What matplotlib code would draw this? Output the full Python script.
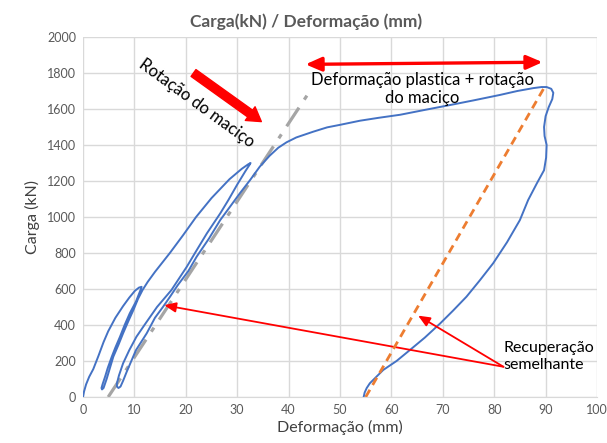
import numpy as np
import matplotlib.pyplot as plt

plt.rcParams['font.family'] = ['Lato', 'DejaVu Sans']

# load / displacement path (mm, kN)
defo = [0.0, 0.2, 0.6, 1.2, 2.0, 3.0, 4.0, 4.9, 6.3, 7.8, 9.0, 10.1, 10.9, 11.4,
        11.2, 10.3, 9.1, 8.1, 7.2, 6.3, 5.6, 4.8, 4.3, 3.8, 3.6, 3.7, 4.0,
        4.6, 5.9, 6.9, 7.8, 8.8, 9.8, 10.7, 11.6, 12.6, 14.0, 16.9, 19.5, 22.0, 25.0, 28.5, 30.9, 32.1, 32.6,
        32.4, 31.6, 30.0, 28.3, 26.7, 24.1, 22.0, 20.2, 17.2, 14.4, 12.2, 10.4, 9.0, 7.8, 7.0, 6.6, 6.6, 6.9, 7.3,
        7.8, 8.5, 10.3, 12.4, 14.0, 15.6, 17.0, 18.4, 20.5, 22.1, 24.5, 26.7, 28.6, 30.5, 32.5, 34.4, 36.3, 38.0, 39.6,
        41.5, 44.8, 47.5, 50.0, 53.9, 57.5, 61.7, 66.5, 71.4, 76.0, 81.1, 84.5, 87.6, 89.2, 90.2, 91.1, 91.5,
        91.3, 90.6, 90.0, 89.7, 89.8, 90.2, 90.1, 89.7, 88.3, 86.6, 85.0, 82.5, 79.8, 77.2, 74.6, 72.0,
        69.5, 66.5, 63.6, 61.0, 58.4, 57.1, 55.8, 55.2, 54.8, 54.6]
carga = [0, 30, 70, 112, 155, 228, 305, 365, 440, 505, 552, 590, 608, 612,
         595, 530, 465, 400, 335, 275, 224, 160, 113, 70, 50, 42, 50,
         100, 224, 290, 354, 420, 483, 545, 595, 640, 695, 800, 900, 1000, 1105, 1210, 1268, 1292, 1300,
         1290, 1255, 1180, 1095, 1020, 909, 810, 724, 594, 500, 410, 335, 260, 187, 120, 76, 58, 50, 58,
         90, 140, 260, 354, 440, 502, 560, 620, 700, 779, 880, 983, 1057, 1131, 1205, 1280, 1340, 1385, 1415,
         1442, 1474, 1498, 1512, 1535, 1551, 1568, 1595, 1622, 1648, 1678, 1700, 1716, 1722, 1722, 1712, 1690,
         1655, 1610, 1560, 1500, 1450, 1400, 1330, 1260, 1187, 1094, 983, 860, 743, 648, 557, 480,
         409, 330, 261, 200, 150, 113, 76, 50, 25, 0]

# orange dashed recovery line and grey dash-dot line
rec_x = [55.0, 89.8]
rec_y = [0, 1722]
rot_x = [4.9, 44.5]
rot_y = [0, 1715]

xticks = np.arange(0, 101, 10)
yticks = np.arange(0, 2001, 200)

fig = plt.figure(figsize=(6.07, 4.43), dpi=100)
ax = fig.add_axes([83/607, 1-397/443, 514/607, 360/443])

ax.plot(rot_x, rot_y, color='#A5A5A5', lw=2.3, dashes=(7, 3, 1.5, 3), zorder=2)
ax.plot(defo, carga, color='#4472C4', lw=1.4, zorder=3)
ax.plot(rec_x, rec_y, color='#ED7D31', lw=2, dashes=(3, 2), zorder=4)

ax.set_xlim(0, 100)
ax.set_ylim(0, 2000)
ax.set_xticks(xticks)
ax.set_yticks(yticks)
ax.grid(True, color='#D9D9D9', lw=1)
ax.set_axisbelow(True)
for s in ['top', 'right', 'left']:
    ax.spines[s].set_visible(False)
ax.spines['bottom'].set_color('#D9D9D9')
ax.tick_params(length=0, labelsize=9, labelcolor='#595959', pad=5)

ax.set_xlabel('Deformação (mm)', fontsize=11.5, color='#404040', labelpad=3)
ax.set_ylabel('Carga (kN)', fontsize=11.5, color='#404040', labelpad=5)
fig.text(0.505, 0.95, 'Carga(kN) / Deformação (mm)', ha='center', va='center',
         fontsize=12.5, fontweight='bold', color='#595959')

# annotations
ax.annotate('', xy=(34.7, 1530), xytext=(21.5, 1800),
            arrowprops=dict(arrowstyle='simple,head_width=1.1,head_length=0.9,tail_width=0.55',
                            color='#FF0000', mutation_scale=11, shrinkA=0, shrinkB=0))
ax.text(22.2, 1630, 'Rotação do maciço', rotation=-36, ha='center', va='center',
        rotation_mode='anchor', fontsize=12, color='#000000')

ax.annotate('', xy=(89.4, 1860), xytext=(43.3, 1848),
            arrowprops=dict(arrowstyle='<|-|>,head_width=0.35,head_length=0.8',
                            color='#FF0000', lw=2.4, mutation_scale=12, shrinkA=0, shrinkB=0))
ax.text(66.0, 1712, 'Deformação plastica + rotação\ndo maciço', ha='center', va='center',
        fontsize=12, linespacing=1.15)

src = (81.8, 168)
for tip in [(15.8, 510), (65.2, 452)]:
    ax.annotate('', xy=tip, xytext=src,
                arrowprops=dict(arrowstyle='-|>,head_width=0.3,head_length=0.7',
                                color='#FF0000', lw=1.3, mutation_scale=10, shrinkA=0, shrinkB=0))
ax.text(81.8, 225, 'Recuperação\nsemelhante', ha='left', va='center', fontsize=11.5, linespacing=1.2)

fig.savefig('out.png', dpi=100)
